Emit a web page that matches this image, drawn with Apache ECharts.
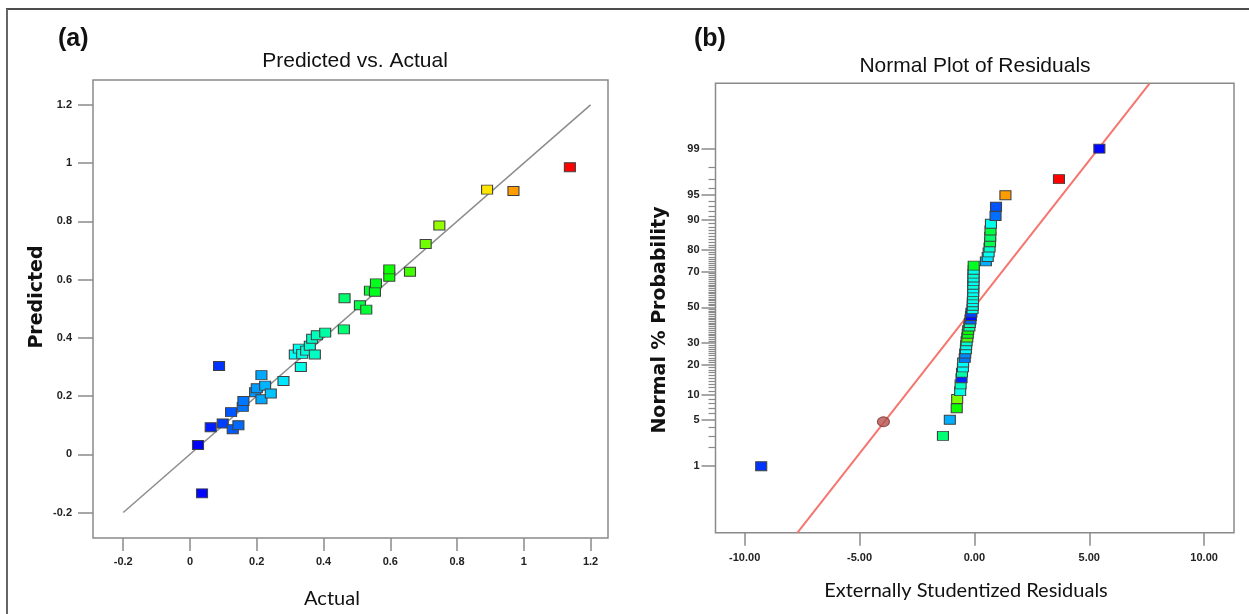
<!DOCTYPE html>
<html>
<head>
<meta charset="utf-8">
<script src="https://cdn.jsdelivr.net/npm/echarts@6/dist/echarts.min.js"></script>
<style>
html,body{margin:0;padding:0;background:#ffffff;}
#chart{width:1249px;height:614px;}
</style>
</head>
<body>
<div id="chart"></div>
<script>
// ---------- Panel (a): Predicted vs. Actual ----------
const actual = [0.036,0.024,0.087,0.062,0.098,0.128,0.145,0.123,0.158,0.160,0.195,0.200,0.214,0.214,0.225,0.242,0.280,0.314,0.332,0.326,0.336,0.348,0.359,0.374,0.366,0.380,0.405,0.461,0.463,0.509,0.528,0.539,0.554,0.557,0.597,0.597,0.659,0.706,0.747,0.890,0.969,1.138];
const predicted = [-0.134,0.032,0.303,0.093,0.106,0.086,0.100,0.145,0.163,0.183,0.213,0.227,0.272,0.189,0.236,0.209,0.252,0.343,0.300,0.363,0.345,0.356,0.373,0.343,0.397,0.409,0.418,0.429,0.536,0.512,0.497,0.562,0.558,0.587,0.610,0.635,0.627,0.722,0.786,0.909,0.904,0.986];
const refLine = [-0.2, 1.2];
const xTicksA = [-0.2,0,0.2,0.4,0.6,0.8,1,1.2];
const yTicksA = [-0.2,0,0.2,0.4,0.6,0.8,1,1.2];

// ---------- Panel (b): Normal Plot of Residuals ----------
const residuals = [-9.28,-1.37,-1.07,-0.77,-0.75,-0.62,-0.60,-0.56,-0.54,-0.50,-0.49,-0.42,-0.40,-0.37,-0.36,-0.34,-0.31,-0.29,-0.27,-0.22,-0.20,-0.17,-0.15,-0.13,-0.08,-0.07,-0.07,-0.06,-0.06,-0.05,-0.05,-0.05,-0.04,-0.04,-0.04,-0.03,-0.03,0.50,0.58,0.62,0.66,0.68,0.69,0.70,0.72,0.92,0.94,1.35,3.68,5.44];
const normalPct = [1,3,5,7,9,11,13,15,17,19,21,23,25,27,29,31,33,35,37,39,41,43,45,47,49,51,53,55,57,59,61,63,65,67,69,71,73,75,77,79,81,83,85,87,89,91,93,95,97,99];
const residResponse = [0.087,0.46,0.22,0.60,0.72,0.33,0.37,0.07,0.40,0.32,0.31,0.16,0.18,0.30,0.33,0.36,0.68,0.56,0.59,0.41,0.38,0.14,0.04,0.10,0.33,0.34,0.32,0.33,0.35,0.33,0.31,0.34,0.32,0.33,0.35,0.33,0.55,0.22,0.28,0.32,0.36,0.50,0.47,0.52,0.33,0.15,0.12,0.97,1.14,0.036];
const flaggedResid = [-3.96];
const flaggedPct = [4.7];
const fitResid = [-7.71, 7.62];
const fitPct = [0.048, 99.948];
const xTicksB = [-10,-5,0,5,10];
const yTicksB = [1,5,10,20,30,50,70,80,90,95,99];

// inverse standard normal CDF (normal probability axis scale)
function probit(p){
  const a=[-3.969683028665376e+01,2.209460984245205e+02,-2.759285104469687e+02,1.383577518672690e+02,-3.066479806614716e+01,2.506628277459239e+00];
  const b=[-5.447609879822406e+01,1.615858368580409e+02,-1.556989798598866e+02,6.680131188771972e+01,-1.328068155288572e+01];
  const c=[-7.784894002430293e-03,-3.223964580411365e-01,-2.400758277161838e+00,-2.549732539343734e+00,4.374664141464968e+00,2.938163982698783e+00];
  const d=[7.784695709041462e-03,3.224671290700398e-01,2.445134137142996e+00,3.754408661907416e+00];
  const pl=0.02425, ph=1-pl; let q,r;
  if(p<pl){q=Math.sqrt(-2*Math.log(p));return (((((c[0]*q+c[1])*q+c[2])*q+c[3])*q+c[4])*q+c[5])/((((d[0]*q+d[1])*q+d[2])*q+d[3])*q+1);}
  if(p<=ph){q=p-0.5;r=q*q;return (((((a[0]*r+a[1])*r+a[2])*r+a[3])*r+a[4])*r+a[5])*q/(((((b[0]*r+b[1])*r+b[2])*r+b[3])*r+b[4])*r+1);}
  q=Math.sqrt(-2*Math.log(1-p));return -(((((c[0]*q+c[1])*q+c[2])*q+c[3])*q+c[4])*q+c[5])/((((d[0]*q+d[1])*q+d[2])*q+d[3])*q+1);
}
const pz = v => probit(v/100);

const dataA = actual.map((v,i)=>[v, predicted[i]]);
const dataB = residuals.map((v,i)=>[v, pz(normalPct[i]), residResponse[i]]);
const flaggedData = flaggedResid.map((v,i)=>[v, pz(flaggedPct[i])]);
const fitData = fitResid.map((v,i)=>[v, pz(fitPct[i])]);
const refData = refLine.map(v=>[v,v]);

const majorZ = yTicksB.map(pz);
const minorZ = [];
for(let p=1;p<=99;p++){ if(yTicksB.indexOf(p)<0) minorZ.push(pz(p)); }

const GRAY = '#8a8a8a';
const tickFont = {fontFamily:'"Liberation Sans Narrow","Liberation Sans",Arial,sans-serif', fontWeight:'bold', fontSize:11, color:'#222'};
const ramp = ['#0000ff','#00ffff','#00ff00','#ffff00','#ff0000'];
const noLine = {show:false, onZero:false};

const chart = echarts.init(document.getElementById('chart'), null, {renderer:'canvas'});
chart.setOption({
  backgroundColor:'#ffffff',
  animation:false,
  grid:[
    {left:93, top:80, width:515, height:458, show:true, borderColor:GRAY, borderWidth:1.5, backgroundColor:'#fff'},
    {left:715.5, top:83.3, width:518.5, height:449.4, show:true, borderColor:GRAY, borderWidth:1.5, backgroundColor:'#fff'}
  ],
  xAxis:[
    {gridIndex:0, type:'value', min:-0.2906, max:1.2522, position:'bottom',
     axisLine:noLine, splitLine:{show:false},
     axisTick:{show:true, length:13, lineStyle:{color:GRAY, width:1.5}, customValues:xTicksA},
     axisLabel:Object.assign({margin:18, customValues:xTicksA, formatter:v=>String(+v.toFixed(1))}, tickFont)},
    {gridIndex:1, type:'value', min:-11.27, max:11.30, position:'bottom',
     axisLine:noLine, splitLine:{show:false},
     axisTick:{show:true, length:13, lineStyle:{color:GRAY, width:1.5}, customValues:xTicksB},
     axisLabel:Object.assign({margin:20, customValues:xTicksB, formatter:v=>v.toFixed(2)}, tickFont)}
  ],
  yAxis:[
    {gridIndex:0, type:'value', min:-0.2874, max:1.2854, position:'left',
     axisLine:noLine, splitLine:{show:false},
     axisTick:{show:true, length:15, lineStyle:{color:GRAY, width:1.5}, customValues:yTicksA},
     axisLabel:Object.assign({margin:21, customValues:yTicksA, formatter:v=>String(+v.toFixed(1))}, tickFont)},
    {gridIndex:1, type:'value', min:-3.30, max:3.284, position:'left', offset:0,
     axisLine:noLine, splitLine:{show:false},
     axisTick:{show:true, length:14, lineStyle:{color:GRAY, width:1.5}, customValues:majorZ},
     axisLabel:Object.assign({margin:16, customValues:majorZ, formatter:function(v){
        for(let i=0;i<yTicksB.length;i++){ if(Math.abs(majorZ[i]-v)<1e-6) return String(yTicksB[i]); }
        return '';
     }}, tickFont)},
    {gridIndex:1, type:'value', min:-3.30, max:3.284, position:'left', offset:0,
     axisLine:noLine, splitLine:{show:false},
     axisTick:{show:true, length:7, lineStyle:{color:GRAY, width:1.2}, customValues:minorZ},
     axisLabel:{show:false}}
  ],
  visualMap:[
    {type:'continuous', show:false, seriesIndex:1, dimension:0, min:0.03, max:1.14, inRange:{color:ramp}},
    {type:'continuous', show:false, seriesIndex:3, dimension:2, min:0.03, max:1.14, inRange:{color:ramp}}
  ],
  series:[
    {type:'line', xAxisIndex:0, yAxisIndex:0, data:refData, symbol:'none', silent:true,
     lineStyle:{color:'#8c8c8c', width:1.5}, z:2},
    {type:'scatter', xAxisIndex:0, yAxisIndex:0, data:dataA, symbol:'rect', symbolSize:[11,9],
     itemStyle:{borderColor:'#404040', borderWidth:1, opacity:1}, z:3},
    {type:'line', xAxisIndex:1, yAxisIndex:1, data:fitData, symbol:'none', silent:true,
     lineStyle:{color:'#f5766e', width:2}, z:2},
    {type:'scatter', xAxisIndex:1, yAxisIndex:1, data:dataB, symbol:'rect', symbolSize:[11,9],
     itemStyle:{borderColor:'#404040', borderWidth:1, opacity:1}, z:3},
    {type:'scatter', xAxisIndex:1, yAxisIndex:1, data:flaggedData, symbol:'circle', symbolSize:[12,10],
     itemStyle:{color:'#b5524f', borderColor:'#6b2c2a', borderWidth:1}, z:4}
  ],
  graphic:[
    {type:'line', shape:{x1:6, y1:9, x2:1249, y2:9}, style:{stroke:'#111', lineWidth:1.5}, silent:true},
    {type:'line', shape:{x1:7, y1:9, x2:7, y2:614}, style:{stroke:'#666', lineWidth:2}, silent:true},
    {type:'text', left:58, top:27, style:{text:'(a)', font:'bold 25px "Liberation Sans", Arial, sans-serif', fill:'#111'}},
    {type:'text', left:694, top:27, style:{text:'(b)', font:'bold 25px "Liberation Sans", Arial, sans-serif', fill:'#111'}},
    {type:'text', x:355, y:61, style:{text:'Predicted vs. Actual', font:'21px "Liberation Sans Narrow", "Liberation Sans", sans-serif', fill:'#111', textAlign:'center', textVerticalAlign:'middle'}},
    {type:'text', x:975, y:66, style:{text:'Normal Plot of Residuals', font:'21px "Liberation Sans Narrow", "Liberation Sans", sans-serif', fill:'#111', textAlign:'center', textVerticalAlign:'middle'}},
    {type:'text', x:332, y:599, style:{text:'Actual', font:'20px Lato, "Open Sans", sans-serif', fill:'#111', textAlign:'center', textVerticalAlign:'middle'}},
    {type:'text', x:966, y:591, style:{text:'Externally Studentized Residuals', font:'20px Lato, "Open Sans", sans-serif', fill:'#111', textAlign:'center', textVerticalAlign:'middle'}},
    {type:'text', x:37, y:297, rotation:Math.PI/2, style:{text:'Predicted', font:'bold 19px "DejaVu Sans", Verdana, sans-serif', fill:'#111', textAlign:'center', textVerticalAlign:'middle'}},
    {type:'text', x:660, y:320, rotation:Math.PI/2, style:{text:'Normal % Probability', font:'bold 19px "DejaVu Sans", Verdana, sans-serif', fill:'#111', textAlign:'center', textVerticalAlign:'middle'}}
  ]
});
</script>
</body>
</html>
